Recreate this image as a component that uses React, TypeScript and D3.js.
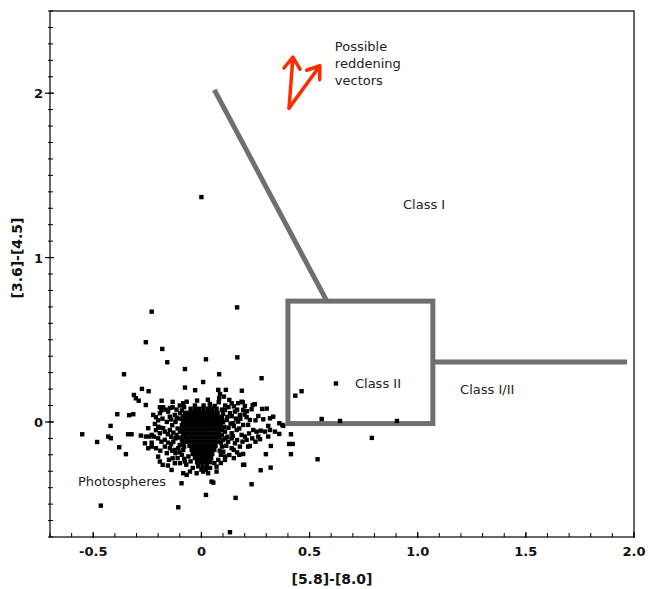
import React from "react";
import * as d3 from "d3";

const W = 650;
const H = 589;

const xDomain: [number, number] = [-0.7, 2.0];
const yDomain: [number, number] = [-0.7, 2.5];
const xMajorTicks = [-0.5, 0, 0.5, 1.0, 1.5, 2.0];
const xTickLabels = ["-0.5", "0", "0.5", "1.0", "1.5", "2.0"];
const yMajorTicks = [0, 1, 2];
const yTickLabels = ["0", "1", "2"];
const xTitle = "[5.8]-[8.0]";
const yTitle = "[3.6]-[4.5]";

// scattered sources ([5.8]-[8.0], [3.6]-[4.5])
const scatteredPoints: [number, number][] = [
  [0.0, 1.368], [-0.23, 0.671], [0.165, 0.697], [-0.257, 0.485], [-0.181, 0.444],
  [-0.158, 0.363], [0.021, 0.381], [0.166, 0.393], [-0.358, 0.29], [-0.076, 0.322],
  [0.082, 0.29], [0.008, 0.243], [0.278, 0.266], [-0.275, 0.201], [-0.244, 0.187],
  [-0.076, 0.209], [-0.029, 0.193], [0.078, 0.195], [0.113, 0.195], [0.187, 0.19],
  [-0.312, 0.164], [-0.303, 0.144], [-0.29, 0.129], [-0.257, 0.103], [-0.389, 0.047],
  [-0.334, 0.041], [-0.315, 0.047], [-0.42, -0.024], [-0.551, -0.075], [-0.482, -0.122],
  [-0.431, -0.089], [-0.419, -0.099], [-0.38, -0.154], [-0.349, -0.196], [-0.339, -0.075],
  [-0.323, -0.075], [-0.28, -0.083], [-0.246, -0.038], [-0.257, -0.089], [-0.241, -0.089],
  [-0.261, -0.13], [-0.246, -0.16], [-0.23, -0.15], [-0.465, -0.509], [-0.107, -0.519],
  [0.132, -0.671], [0.021, -0.444], [0.158, -0.462], [0.232, -0.379], [-0.092, -0.373],
  [0.047, -0.363], [0.055, -0.369], [0.274, -0.294], [0.32, -0.278], [0.298, -0.196],
  [0.321, -0.146], [0.414, -0.075], [0.406, -0.134], [0.422, -0.134], [0.414, -0.196],
  [0.537, -0.227], [0.556, 0.018], [0.434, 0.16], [0.463, 0.187], [0.622, 0.234],
  [0.641, 0.006], [0.904, 0.006], [0.788, -0.097], [0.374, -0.018], [0.36, -0.008],
  [0.332, 0.032], [0.317, 0.022], [0.281, 0.079], [0.302, 0.081],
  [-0.184, 0.129], [-0.133, 0.122], [-0.084, 0.114], [-0.068, 0.123], [-0.192, 0.089],
  [-0.177, 0.089], [-0.133, 0.089], [0.086, 0.17], [0.082, 0.144], [0.104, 0.154],
  [0.129, 0.134], [0.14, 0.114], [0.17, 0.114], [0.186, 0.123], [0.039, 0.109],
  [0.062, 0.097], [-0.223, 0.043], [-0.21, 0.029], [-0.192, 0.053], [-0.154, 0.063],
  [-0.146, 0.032], [-0.123, 0.043], [-0.099, 0.053], [-0.215, -0.012], [-0.2, -0.029],
  [-0.177, -0.038], [-0.23, -0.079], [-0.22, -0.089], [-0.23, -0.126], [-0.192, -0.069],
  [-0.169, -0.059], [-0.146, -0.049], [-0.169, -0.109], [-0.154, -0.126], [-0.13, -0.12],
  [-0.115, -0.079], [-0.099, -0.059], [-0.084, -0.089], [-0.169, -0.15], [-0.146, -0.16],
  [-0.123, -0.17], [-0.107, -0.16], [-0.084, -0.17], [-0.2, -0.211], [-0.192, -0.241],
  [-0.179, -0.261], [-0.133, -0.221], [-0.123, -0.251], [-0.138, -0.292], [-0.099, -0.251],
  [-0.076, -0.241], [-0.084, -0.312], [-0.068, -0.322], [-0.053, -0.302], [-0.022, -0.312],
  [0.008, -0.302], [0.031, -0.312], [0.07, -0.302], [0.109, 0.073], [0.132, 0.053],
  [0.155, 0.063], [0.178, 0.043], [0.193, 0.073], [0.117, 0.012], [0.147, -0.008],
  [0.17, 0.002], [0.193, -0.018], [0.109, -0.059], [0.14, -0.069], [0.163, -0.049],
  [0.186, -0.079], [0.124, -0.12], [0.155, -0.13], [0.178, -0.15], [0.101, -0.181],
  [0.129, -0.201], [0.109, -0.231], [0.193, -0.261], [0.078, -0.231], [0.07, -0.272],
  [0.191, 0.12], [0.201, 0.097], [0.237, 0.103], [0.247, 0.108], [0.232, 0.077],
  [0.209, 0.029], [0.224, 0.012], [0.263, 0.036], [0.286, 0.016], [0.216, -0.018],
  [0.24, -0.049], [0.255, -0.059], [0.274, -0.053], [0.309, -0.024], [0.317, -0.049],
  [0.34, -0.059], [0.36, -0.073], [0.378, -0.024], [0.201, -0.089], [0.209, -0.109],
  [0.263, -0.089], [0.271, -0.105], [0.294, -0.059], [0.309, -0.089], [0.216, -0.15],
  [0.224, -0.146], [0.193, -0.195], [0.198, -0.261],
  [-0.09, 0.07], [-0.1, 0.02], [-0.09, -0.02], [-0.11, -0.04], [-0.09, -0.11],
  [-0.1, -0.14], [-0.09, -0.2], [-0.06, -0.21], [-0.08, 0.09], [-0.12, 0.0],
  [-0.135, -0.02], [-0.14, -0.09], [-0.12, -0.19], [0.1, 0.05], [0.1, 0.0],
  [0.105, -0.03], [0.12, -0.09], [0.1, -0.11], [0.095, -0.15], [0.09, -0.2],
  [0.12, 0.03], [0.135, -0.01], [0.14, -0.1], [0.15, -0.17], [0.16, 0.02],
  [0.11, 0.1], [0.08, 0.12], [-0.02, 0.13], [0.03, 0.135], [-0.05, -0.24],
  [0.06, -0.25], [0.04, -0.28], [-0.04, -0.28],
  // left side of the cloud
  [-0.185, 0.07], [-0.165, 0.075], [-0.145, 0.085], [-0.115, 0.075], [-0.1, 0.1],
  [-0.2, 0.01], [-0.18, 0.02], [-0.16, 0.0], [-0.14, 0.015], [-0.115, 0.025], [-0.085, 0.035],
  [-0.21, -0.05], [-0.19, -0.035], [-0.155, -0.075], [-0.13, -0.065], [-0.105, -0.095], [-0.085, -0.06],
  [-0.2, -0.1], [-0.185, -0.12], [-0.14, -0.135], [-0.12, -0.1], [-0.085, -0.13],
  [-0.21, -0.16], [-0.19, -0.175], [-0.16, -0.19], [-0.135, -0.175], [-0.1, -0.185], [-0.08, -0.15],
  [-0.15, -0.23], [-0.11, -0.22], [-0.08, -0.225], [-0.07, -0.26], [-0.155, -0.265],
  // right side of the cloud
  [0.095, 0.075], [0.125, 0.09], [0.15, 0.095], [0.165, 0.075], [0.21, 0.065],
  [0.095, 0.025], [0.14, 0.035], [0.18, 0.02], [0.2, 0.045], [0.25, 0.01],
  [0.095, -0.05], [0.125, -0.035], [0.15, -0.025], [0.175, -0.04], [0.22, -0.07], [0.235, -0.1],
  [0.095, -0.08], [0.11, -0.1], [0.145, -0.085], [0.165, -0.11], [0.19, -0.12], [0.25, -0.12],
  [0.09, -0.125], [0.115, -0.145], [0.14, -0.16], [0.165, -0.185], [0.085, -0.175], [0.11, -0.21],
  [0.15, -0.22], [0.175, -0.2], [0.09, -0.25],
];

// dense photosphere core, read row by row: [y, x values]
const coreRows: [number, number[]][] = [
  [0.1, [-0.03, 0.01, 0.04]],
  [0.08, [-0.05, -0.03, -0.01, 0.01, 0.03, 0.05, 0.07]],
  [0.055, [-0.075, -0.06, -0.045, -0.03, -0.015, 0.0, 0.015, 0.03, 0.045, 0.06, 0.075]],
  [0.03, [-0.08, -0.065, -0.05, -0.035, -0.02, -0.005, 0.01, 0.025, 0.04, 0.055, 0.07, 0.085]],
  [0.005, [-0.085, -0.07, -0.055, -0.04, -0.025, -0.01, 0.005, 0.02, 0.035, 0.05, 0.065, 0.08]],
  [-0.02, [-0.085, -0.07, -0.055, -0.04, -0.025, -0.01, 0.005, 0.02, 0.035, 0.05, 0.065, 0.08, 0.09]],
  [-0.045, [-0.09, -0.075, -0.06, -0.045, -0.03, -0.015, 0.0, 0.015, 0.03, 0.045, 0.06, 0.075, 0.09]],
  [-0.07, [-0.085, -0.07, -0.055, -0.04, -0.025, -0.01, 0.005, 0.02, 0.035, 0.05, 0.065, 0.08]],
  [-0.095, [-0.075, -0.065, -0.05, -0.035, -0.02, -0.005, 0.01, 0.025, 0.04, 0.055, 0.07, 0.085]],
  [-0.12, [-0.07, -0.06, -0.045, -0.03, -0.015, 0.0, 0.015, 0.03, 0.045, 0.06, 0.075]],
  [-0.145, [-0.055, -0.04, -0.025, -0.01, 0.005, 0.02, 0.035, 0.05, 0.065]],
  [-0.17, [-0.045, -0.03, -0.015, 0.0, 0.015, 0.03, 0.045, 0.06]],
  [-0.195, [-0.04, -0.025, -0.01, 0.005, 0.02, 0.035, 0.05]],
  [-0.22, [-0.03, -0.015, 0.0, 0.015, 0.03, 0.045]],
  [-0.245, [-0.02, -0.005, 0.01, 0.025, 0.04]],
  [-0.27, [-0.015, 0.005, 0.025]],
  [-0.29, [0.0, 0.02]],
];

// classification regions
const classIIBox = { x0: 0.4, x1: 1.07, y0: -0.01, y1: 0.735 };
const classILine: [number, number][] = [[0.06, 2.02], [0.58, 0.735]];
const classIIILine: [number, number][] = [[1.07, 0.365], [1.968, 0.365]];
const reddeningVectors: { from: [number, number]; to: [number, number] }[] = [
  { from: [0.405, 1.909], to: [0.423, 2.219] },
  { from: [0.405, 1.909], to: [0.548, 2.167] },
];
const annotations: { text: string; x: number; y: number }[] = [
  { text: "Possible", x: 0.617, y: 2.254 },
  { text: "reddening", x: 0.617, y: 2.151 },
  { text: "vectors", x: 0.617, y: 2.048 },
  { text: "Class I", x: 0.932, y: 1.295 },
  { text: "Class II", x: 0.71, y: 0.207 },
  { text: "Class I/II", x: 1.196, y: 0.17 },
  { text: "Photospheres", x: -0.571, y: -0.389 },
];

const LEFT = 50;
const RIGHT = 634;
const TOP = 11;
const BOTTOM = 537;

export default function App() {
  const x = d3.scaleLinear().domain(xDomain).range([LEFT, RIGHT]);
  const y = d3.scaleLinear().domain(yDomain).range([BOTTOM, TOP]);

  const corePoints: [number, number][] = coreRows.flatMap(([yy, xs]) =>
    xs.map((xx) => [xx, yy] as [number, number])
  );
  const allPoints = [...corePoints, ...scatteredPoints];

  const xMinor = d3.range(-7, 21).map((i) => i / 10);
  const yMinor = d3.range(-7, 26).map((i) => i / 10);

  const line = d3
    .line<[number, number]>()
    .x((d) => x(d[0]))
    .y((d) => y(d[1]));

  const arrowPath = (from: [number, number], to: [number, number]) => {
    const x0 = x(from[0]);
    const y0 = y(from[1]);
    const x1 = x(to[0]);
    const y1 = y(to[1]);
    const ang = Math.atan2(y0 - y1, x0 - x1);
    const len = 14;
    const spread = (35 * Math.PI) / 180;
    const b1 = [x1 + len * Math.cos(ang + spread), y1 + len * Math.sin(ang + spread)];
    const b2 = [x1 + len * Math.cos(ang - spread), y1 + len * Math.sin(ang - spread)];
    return `M${x0},${y0}L${x1},${y1}M${b1[0]},${b1[1]}L${x1},${y1}L${b2[0]},${b2[1]}`;
  };

  const gray = "#6f6f6f";
  const sq = 4.4;

  return (
    <div style={{ position: "absolute", left: 0, top: 0 }}>
      <svg width={W} height={H} style={{ display: "block", background: "#fff" }}>
        <rect x={0} y={0} width={W} height={H} fill="#fff" />
        {/* frame */}
        <rect
          x={LEFT}
          y={TOP}
          width={RIGHT - LEFT}
          height={BOTTOM - TOP}
          fill="none"
          stroke="#000"
          strokeWidth={1.2}
        />
        {/* x ticks */}
        {xMinor.map((t) => (
          <line key={"xm" + t} x1={x(t)} x2={x(t)} y1={BOTTOM} y2={BOTTOM - 4} stroke="#000" strokeWidth={1} />
        ))}
        {xMajorTicks.map((t) => (
          <line key={"xM" + t} x1={x(t)} x2={x(t)} y1={BOTTOM + 1} y2={BOTTOM - 5} stroke="#000" strokeWidth={1.2} />
        ))}
        {xMajorTicks.map((t, i) => (
          <text
            key={"xl" + t}
            x={x(t)}
            y={BOTTOM + 19}
            textAnchor="middle"
            fontFamily="DejaVu Sans"
            fontWeight="bold"
            fontSize={13}
            fill="#111"
          >
            {xTickLabels[i]}
          </text>
        ))}
        {/* y ticks */}
        {yMinor.map((t) => (
          <line key={"ym" + t} x1={LEFT - 2} x2={LEFT + 3} y1={y(t)} y2={y(t)} stroke="#000" strokeWidth={1} />
        ))}
        {yMajorTicks.map((t) => (
          <line key={"yM" + t} x1={LEFT - 5} x2={LEFT + 4} y1={y(t)} y2={y(t)} stroke="#000" strokeWidth={1.2} />
        ))}
        {yMajorTicks.map((t, i) => (
          <text
            key={"yl" + t}
            x={LEFT - 7}
            y={y(t) + 5}
            textAnchor="end"
            fontFamily="DejaVu Sans"
            fontWeight="bold"
            fontSize={13}
            fill="#111"
          >
            {yTickLabels[i]}
          </text>
        ))}
        {/* axis titles */}
        <text
          x={332}
          y={584}
          textAnchor="middle"
          fontFamily="DejaVu Sans"
          fontWeight="bold"
          fontSize={14}
          fill="#111"
        >
          {xTitle}
        </text>
        <text
          transform={`translate(22,258) rotate(-90)`}
          textAnchor="middle"
          fontFamily="DejaVu Sans"
          fontWeight="bold"
          fontSize={14}
          fill="#111"
        >
          {yTitle}
        </text>

        {/* classification lines */}
        <path d={line(classILine) || ""} stroke={gray} strokeWidth={5} fill="none" />
        <path d={line(classIIILine) || ""} stroke={gray} strokeWidth={5} fill="none" />
        <rect
          x={x(classIIBox.x0)}
          y={y(classIIBox.y1)}
          width={x(classIIBox.x1) - x(classIIBox.x0)}
          height={y(classIIBox.y0) - y(classIIBox.y1)}
          fill="none"
          stroke={gray}
          strokeWidth={5}
        />

        {/* points */}
        {allPoints.map((p, i) => (
          <rect key={"p" + i} x={x(p[0]) - sq / 2} y={y(p[1]) - sq / 2} width={sq} height={sq} fill="#000" />
        ))}

        {/* reddening vectors */}
        {reddeningVectors.map((v, i) => (
          <path
            key={"rv" + i}
            d={arrowPath(v.from, v.to)}
            stroke="#ff2a00"
            strokeWidth={3.5}
            fill="none"
            strokeLinecap="round"
            strokeLinejoin="round"
          />
        ))}

        {/* annotations */}
        {annotations.map((a, i) => (
          <text key={"a" + i} x={x(a.x)} y={y(a.y)} fontFamily="DejaVu Sans" fontSize={13} fill="#222">
            {a.text}
          </text>
        ))}
      </svg>
    </div>
  );
}
